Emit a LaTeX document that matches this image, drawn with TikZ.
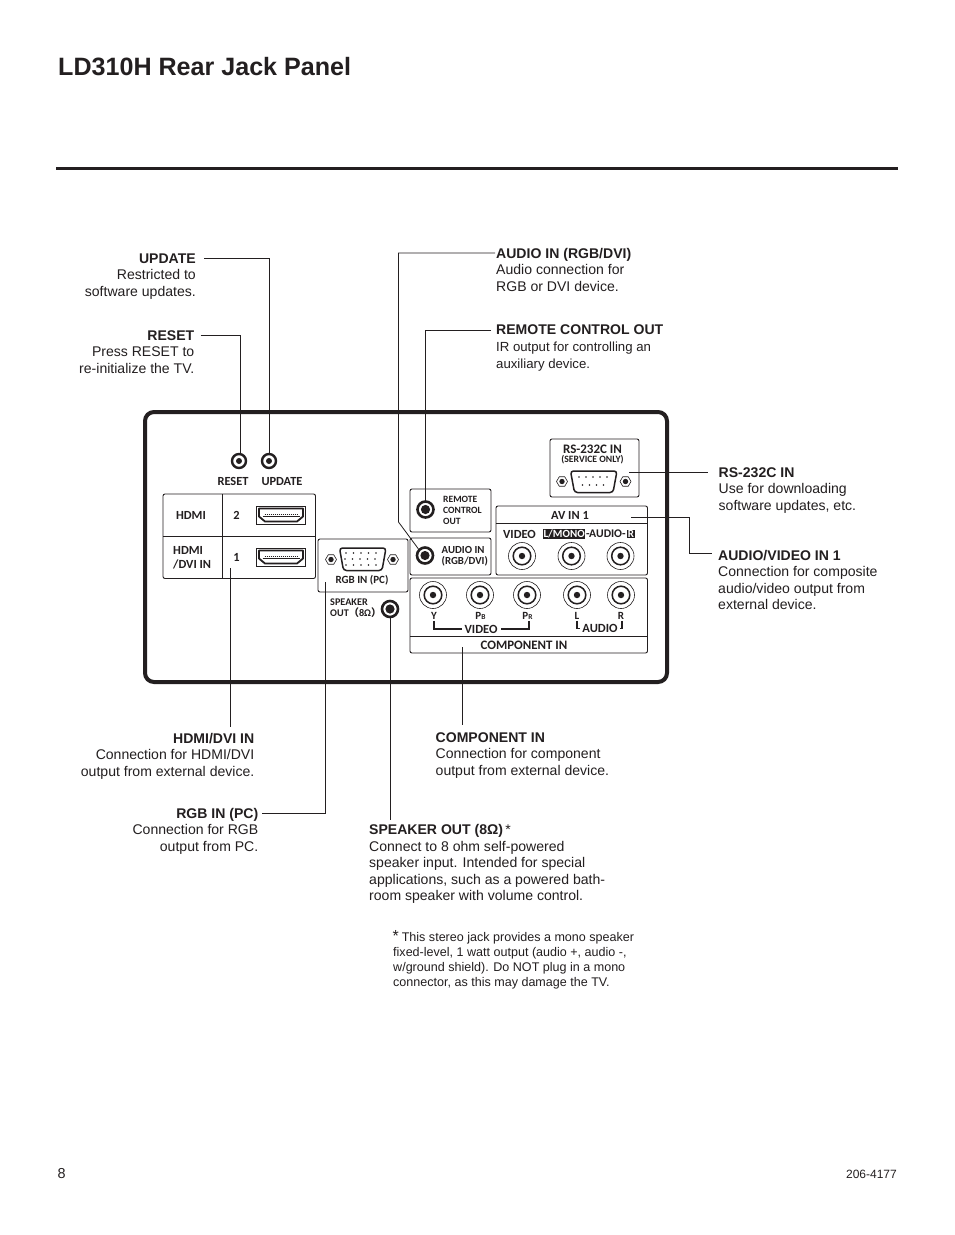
\documentclass[tikz,border=0pt]{standalone}
\usepackage{fontspec}
\setmainfont{Liberation Sans}
\newfontfamily\panelfont{Carlito}
\newfontfamily\cjk{Noto Sans CJK SC}
\usetikzlibrary{shapes.geometric}
\definecolor{ink}{HTML}{231F20}
\tikzset{
  lead/.style={draw=ink,line width=0.8pt},
  caption/.style={inner sep=0pt,text=ink,font=\fontsize{14.05}{16.6}\selectfont},
  capleft/.style={caption,anchor=north west,align=left},
  capright/.style={caption,anchor=north east,align=right},
  box/.style={draw=ink,line width=0.9pt,rounded corners=2pt},
  ptxt/.style={inner sep=0pt,text=ink,font=\panelfont\bfseries\fontsize{12.4}{13.4}\selectfont},
  ptxtl/.style={ptxt,anchor=west,align=left},
  ptxts/.style={inner sep=0pt,text=ink,font=\panelfont\bfseries\fontsize{11}{12}\selectfont},
  jack/.style={circle,draw=ink,line width=2.4pt,fill=white,minimum size=14pt,inner sep=0pt,
    path picture={\fill[ink] (path picture bounding box.center) circle (3);}},
  bigjack/.style={circle,draw=ink,line width=2.6pt,fill=white,minimum size=16pt,inner sep=0pt,
    path picture={\fill[ink] (path picture bounding box.center) circle (4.6);}},
  rca/.style={circle,draw=ink,line width=0.6pt,fill=white,minimum size=27pt,inner sep=0pt,
    path picture={\draw[ink,line width=1.5pt] (path picture bounding box.center) circle (8.8);
      \fill[ink] (path picture bounding box.center) circle (3.2);}},
  screw/.style={regular polygon,regular polygon sides=6,draw=ink,line width=0.6pt,minimum size=11pt,inner sep=0pt,
    path picture={\fill[ink] (path picture bounding box.center) circle (2.7);}},
  brk/.style={draw=ink,line width=1.4pt},
}
\newcommand{\hdmiport}[2]{%
  \draw[ink,line width=0.6pt] (#1,#2) rectangle ++(49,18);
  \draw[ink,line width=1.8pt,line join=round] (#1+2.5,#2+2.5) -- (#1+46.5,#2+2.5) -- (#1+46.5,#2+10.5) -- (#1+40.5,#2+15.5) -- (#1+8.5,#2+15.5) -- (#1+2.5,#2+10.5) -- cycle;
  \draw[ink,line width=1.4pt] (#1+6,#2+10.5) -- (#1+43,#2+10.5);
  \draw[ink,line width=1pt,dash pattern=on 0.8pt off 1.2pt] (#1+8,#2+8.4) -- (#1+41,#2+8.4);
}
\begin{document}
\begin{tikzpicture}[x=1pt,y=-1pt]
\useasboundingbox (0,0) rectangle (954,1235);
\fill[white] (0,0) rectangle (954,1235);

% heading
\node[inner sep=0pt,anchor=base west,text=ink,font=\bfseries\fontsize{25.1}{30}\selectfont] (title) at (58,75.5) {LD310H Rear Jack Panel};
\coordinate (ruleL) at (56,168.5);
\coordinate (ruleR) at (898,168.5);
\draw[ink,line width=3pt] (ruleL) -- (ruleR);

% panel
\draw[ink,line width=4pt,rounded corners=9pt] (145,412) rectangle (667,682);

% HDMI block
\draw[box] (163,494) rectangle (315.5,578.5);
\draw[ink,line width=0.8pt] (163,536.5) -- (315.5,536.5) (222,494) -- (222,578.5);
\node[ptxt] (hdmiA) at (191,515) {HDMI};
\node[ptxtl] (hdmiB) at (173,557.7) {HDMI\\/DVI IN};
\node[ptxt] (two) at (236.5,515) {2};
\node[ptxt] (one) at (236.5,557) {1};
\hdmiport{256.5}{506}
\hdmiport{256.5}{548}
\coordinate (hdmiEnd) at (230.5,568);

% reset / update
\node[jack] (reset) at (239,461) {};
\node[jack] (update) at (269,461) {};
\node[ptxt,anchor=base] (resetT) at (233,485) {RESET};
\node[ptxt,anchor=base] (updateT) at (282,485) {UPDATE};

% RGB
\draw[box,fill=white] (318,539) rectangle (408,592);
\draw[ink,line width=1.5pt,rounded corners=3pt,fill=white] (339.5,548) -- (386,548) -- (382,570.5) -- (343.5,570.5) -- cycle;
\foreach \yy/\xa in {553/346,559/345,565/346}{\foreach \i in {0,...,4}{\fill[ink] (\xa+\i*7.5,\yy) circle (0.8);}}
\node[screw] (rgbS1) at (331,559.5) {};
\node[screw] (rgbS2) at (393,559.5) {};
\node[ptxts] (rgbT) at (362,580) {RGB IN (PC)};
\coordinate (rgbEnd) at (325.5,582);

% speaker
\node[ptxtl,font=\panelfont\bfseries\fontsize{10.2}{11}\selectfont] (spkT) at (330,607.7) {SPEAKER\\OUT{\cjk （}8Ω{\cjk ）}};
\node[bigjack] (spk) at (390,609) {};

% remote
\draw[box] (410,489) rectangle (491,532);
\node[bigjack] (remote) at (425.5,509.5) {};
\node[ptxtl,font=\panelfont\bfseries\fontsize{9.6}{11}\selectfont] (remoteT) at (443,510) {REMOTE\\CONTROL\\OUT};

% audio in
\draw[box] (410,538) rectangle (491,575);
\node[bigjack] (audio) at (425,555.5) {};
\node[ptxtl,font=\panelfont\bfseries\fontsize{10.8}{11}\selectfont] (audioT) at (441.5,556.5) {AUDIO IN\\(RGB/DVI)};

% RS-232
\draw[box] (550,439) rectangle (639,497);
\node[ptxts,font=\panelfont\bfseries\fontsize{13}{14}\selectfont] (rsT) at (592.5,449) {RS-232C IN};
\node[ptxts,font=\panelfont\bfseries\fontsize{9.7}{10}\selectfont] (rsS) at (592.5,460) {(SERVICE ONLY)};
\draw[ink,line width=1.5pt,rounded corners=3pt,fill=white] (570.5,471) -- (617,471) -- (613,492.5) -- (574.5,492.5) -- cycle;
\foreach \i in {0,...,4}{\fill[ink] (579+\i*7,477) circle (0.8);}
\foreach \i in {0,...,3}{\fill[ink] (582.5+\i*7,485) circle (0.8);}
\node[screw] (rsS1) at (562,481.5) {};
\node[screw] (rsS2) at (625.5,481.5) {};
\coordinate (rsEnd) at (629,472);

% AV IN 1
\draw[box] (496,506) rectangle (647.5,575);
\draw[ink,line width=0.8pt] (496,523) -- (647.5,523);
\node[ptxt] (avT) at (570,515) {AV IN 1};
\node[ptxt] (vidT) at (519.5,534) {VIDEO};
\node[inner sep=0.6pt,fill=ink,text=white,font=\panelfont\bfseries\fontsize{11}{12}\selectfont,anchor=east] (monoT) at (585.5,534) {L/MONO};
\node[inner sep=0pt,text=ink,font=\panelfont\bfseries\fontsize{11.7}{12}\selectfont,anchor=west] (audT) at (585.8,534) {-AUDIO-};
\node[inner sep=0.6pt,fill=ink,text=white,font=\panelfont\bfseries\fontsize{11}{12}\selectfont,anchor=west] (rT) at (627,534) {R};
\node[rca] (avV) at (522,556) {};
\node[rca] (avL) at (571.5,556) {};
\node[rca] (avR) at (620.5,556) {};
\coordinate (avEnd) at (631,517);

% component
\draw[box] (410,578) rectangle (647.5,653);
\draw[ink,line width=0.8pt] (410,636) -- (647.5,636);
\node[rca] (cY) at (433,595) {};
\node[rca] (cB) at (480,595) {};
\node[rca] (cR) at (527,595) {};
\node[rca] (cL) at (577,595) {};
\node[rca] (cA) at (621,595) {};
\node[ptxts] (tY) at (434,616) {Y};
\node[ptxts] (tB) at (480.5,616) {P{\fontsize{7.5}{8}\selectfont B}};
\node[ptxts] (tR) at (527.5,616) {P{\fontsize{7.5}{8}\selectfont R}};
\node[ptxts] (tL) at (577,616) {L};
\node[ptxts] (tA) at (621,616) {R};
\node[ptxt,font=\panelfont\bfseries\fontsize{12.5}{14}\selectfont] (vv) at (481,629) {VIDEO};
\node[ptxt,font=\panelfont\bfseries\fontsize{12.5}{14}\selectfont] (aa) at (600,628.5) {AUDIO};
\draw[brk] ([yshift=-1pt]tY.south) |- ([xshift=-2pt]vv.west);
\draw[brk] ([xshift=1.5pt,yshift=-1pt]tR.south) |- ([xshift=3pt]vv.east);
\draw[brk] ([yshift=-1pt]tL.south) |- ([xshift=-2pt]aa.west);
\draw[brk] ([xshift=1pt,yshift=-1pt]tA.south) |- ([xshift=2pt]aa.east);
\node[ptxt,font=\panelfont\bfseries\fontsize{12.9}{14}\selectfont] (compT) at (524,645) {COMPONENT IN};
\coordinate (compEnd) at (462.5,647);

% captions
\node[capright] (capUpd) at (196,253.5) {\textbf{UPDATE}\\Restricted to\\software updates.};
\node[capright] (capRes) at (194.5,330) {\textbf{RESET}\\Press RESET to\\re-initialize the TV.};
\node[capleft] (capAud) at (496,247.7) {\textbf{AUDIO IN (RGB/DVI)}\\Audio connection for\\RGB or DVI device.};
\node[capleft] (capRem) at (496,324.3) {\textbf{REMOTE CONTROL OUT}\\[1pt]\fontsize{13.2}{17.4}\selectfont IR output for controlling an\\[0.4pt]\fontsize{13.2}{17.4}\selectfont auxiliary device.};
\node[capleft] (capRs) at (718.5,467.3) {\textbf{RS-232C IN}\\Use for downloading\\software updates, etc.};
\node[capleft] (capAv) at (718,549.8) {\textbf{AUDIO/VIDEO IN 1}\\Connection for composite\\audio/video output from\\external device.};
\node[capright] (capHdmi) at (254.5,733) {\textbf{HDMI/DVI IN}\\Connection for HDMI/DVI\\output from external device.};
\node[capright] (capRgb) at (258.5,807.7) {\textbf{RGB IN (PC)}\\Connection for RGB\\output from PC.};
\node[capleft] (capComp) at (435.5,732) {\textbf{COMPONENT IN}\\Connection for component\\output from external device.};
\node[capleft] (capSpk) at (369,824.2) {\textbf{SPEAKER OUT (8Ω)}\,*\\Connect to 8 ohm self-powered\\speaker input. Intended for special\\applications, such as a powered bath-\\room speaker with volume control.};
\node[capleft,font=\fontsize{12.55}{15}\selectfont] (note) at (393,932.3) {\hspace*{8.6pt}This stereo jack provides a mono speaker\\fixed-level, 1 watt output (audio +, audio -,\\w/ground shield). Do NOT plug in a mono\\connector, as this may damage the TV.};
\node[inner sep=0pt,anchor=base west,text=ink,font=\fontsize{16}{16}\selectfont] (star) at (392.5,941) {*};
\node[inner sep=0pt,anchor=base west,text=ink,font=\fontsize{14.4}{16}\selectfont] (pageNo) at (57.5,1178) {8};
\node[inner sep=0pt,anchor=base east,text=ink,font=\fontsize{12}{13}\selectfont] (docNo) at (897,1178.5) {206-4177};

% leader free ends
\coordinate (fUpd) at (204,258);
\coordinate (fRes) at (200.5,335);
\coordinate (fAud) at (495,253);
\coordinate (kAud) at (398.5,522);
\coordinate (fRem) at (491,330);
\coordinate (fRs) at (708,472);
\coordinate (fAv) at (712,553.5);
\coordinate (kAv) at (689.5,517);
\coordinate (fHdmi) at (230.5,727);
\coordinate (fRgb) at (262,813.5);
\coordinate (fSpk) at (390,820);
\coordinate (fComp) at (462.5,725);

% leaders
\draw[lead] (fUpd) -| (update.north);
\draw[lead] (fRes) -| ([xshift=1.5pt]reset.north);
\draw[lead] (fAud) -| (kAud) -- (audio.north west);
\draw[lead] (fRem) -| (remote.north);
\draw[lead] (rsEnd) -- (fRs);
\draw[lead] (avEnd) -- (kAv) |- (fAv);
\draw[lead] (hdmiEnd) -- (fHdmi);
\draw[lead] (rgbEnd) |- (fRgb);
\draw[lead] (spk.south) -- (fSpk);
\draw[lead] (compEnd) -- (fComp);
\end{tikzpicture}
\end{document}
